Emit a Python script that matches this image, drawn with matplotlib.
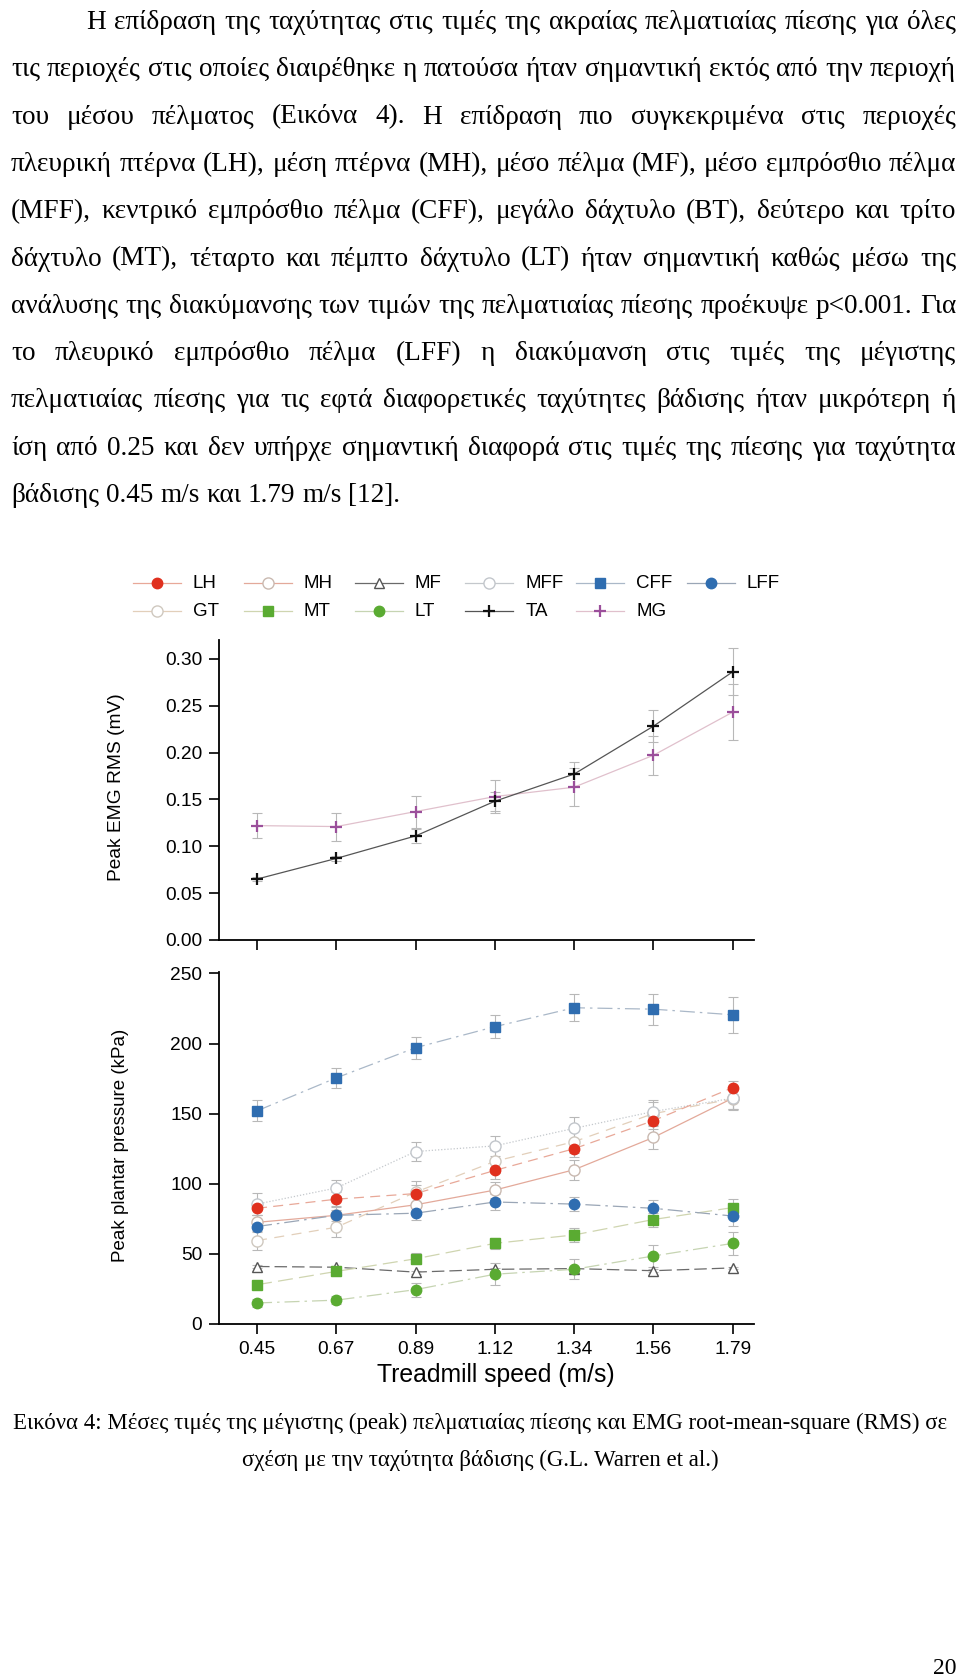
import matplotlib
matplotlib.use("Agg")
import matplotlib.pyplot as plt

W, H = 960, 1678
SERIF = "Liberation Serif"
SANS = "Liberation Sans"

# ---- data ----
speeds = ["0.45", "0.67", "0.89", "1.12", "1.34", "1.56", "1.79"]

ta = [0.065, 0.087, 0.111, 0.148, 0.177, 0.228, 0.286]
ta_err = [0.002, 0.003, 0.007, 0.010, 0.013, 0.017, 0.025]
mg = [0.122, 0.121, 0.137, 0.153, 0.163, 0.197, 0.243]
mg_err = [0.013, 0.015, 0.017, 0.018, 0.020, 0.021, 0.030]

cff = [152, 175.5, 197, 212, 225.5, 224.5, 220.5]
cff_err = [7.5, 7, 8, 8, 9.5, 11, 13]
lh = [82.5, 89, 93, 109.5, 125, 145, 168.5]
lh_err = [5, 5, 6, 6, 6, 6, 5]
mh = [72.5, 77.5, 85, 95.5, 110, 133, 161]
mh_err = [5, 6, 6, 6, 7, 8, 8]
mff = [85.5, 97, 123, 127, 139.5, 151.5, 161]
mff_err = [8, 6, 7, 7, 8, 8, 8]
gt = [59.5, 69, 94, 116, 130, 150, 160.5]
gt_err = [7, 7, 8, 8, 8, 8, 8]
mf = [41, 40.5, 37, 39, 39.5, 38, 40]
mf_err = [1, 1, 1, 1, 1, 1, 1]
mt = [28, 37.5, 46.5, 57.5, 63.5, 74.5, 83]
mt_err = [3, 3, 4, 4, 5, 5, 6]
lt = [15, 17, 24.5, 35.5, 39, 48.5, 57.5]
lt_err = [3, 3, 5, 8, 7, 8, 8]
lff = [69.5, 77.5, 79, 87, 85.5, 82.5, 77]
lff_err = [4, 4, 5, 6, 5, 6, 7]

body_lines = [
    "Η επίδραση της ταχύτητας στις τιμές της ακραίας πελματιαίας πίεσης για όλες",
    "τις περιοχές στις οποίες διαιρέθηκε η πατούσα ήταν σημαντική εκτός από την περιοχή",
    "του μέσου πέλματος (Εικόνα 4). Η επίδραση πιο συγκεκριμένα στις περιοχές",
    "πλευρική πτέρνα (LH), μέση πτέρνα (MH), μέσο πέλμα (MF), μέσο εμπρόσθιο πέλμα",
    "(MFF), κεντρικό εμπρόσθιο πέλμα (CFF), μεγάλο δάχτυλο (BT), δεύτερο και τρίτο",
    "δάχτυλο (MT), τέταρτο και πέμπτο δάχτυλο (LT) ήταν σημαντική καθώς μέσω της",
    "ανάλυσης της διακύμανσης των τιμών της πελματιαίας πίεσης προέκυψε p<0.001. Για",
    "το πλευρικό εμπρόσθιο πέλμα (LFF) η διακύμανση στις τιμές της μέγιστης",
    "πελματιαίας πίεσης για τις εφτά διαφορετικές ταχύτητες βάδισης ήταν μικρότερη ή",
    "ίση από 0.25 και δεν υπήρχε σημαντική διαφορά στις τιμές της πίεσης για ταχύτητα",
    "βάδισης 0.45 m/s και 1.79 m/s [12].",
]
caption = ["Εικόνα 4: Μέσες τιμές της μέγιστης (peak) πελματιαίας πίεσης και EMG root-mean-square (RMS) σε",
           "σχέση με την ταχύτητα βάδισης (G.L. Warren et al.)"]

# style per series: (label, values, err, color, marker, facecolor, linestyle, linecolor, size)
pressure = [
    ("MF", mf, mf_err, "#555555", "^", "white", (0, (10, 4)), "#6a6a6a", 7),
    ("LT", lt, lt_err, "#5aab32", "o", "#5aab32", (0, (12, 4, 2, 4)), "#c6d4b2", 7.5),
    ("MT", mt, mt_err, "#5aab32", "s", "#5aab32", (0, (12, 5)), "#cfd5b0", 7),
    ("GT", gt, gt_err, "#cfc8bf", "o", "white", (0, (8, 6)), "#e2cfba", 8),
    ("MH", mh, mh_err, "#c9b9b0", "o", "white", "-", "#e3a99a", 8),
    ("MFF", mff, mff_err, "#c2c6cb", "o", "white", (0, (1, 1.5)), "#c4c8cc", 8),
    ("LFF", lff, lff_err, "#2f6db0", "o", "#2f6db0", (0, (12, 4, 2, 4)), "#9aa6b6", 7.5),
    ("LH", lh, lh_err, "#e0301e", "o", "#e0301e", (0, (8, 5)), "#e8a898", 7.5),
    ("CFF", cff, cff_err, "#2f6db0", "s", "#2f6db0", (0, (12, 4, 2, 4)), "#aab8c8", 7),
]
emg = [
    ("MG", mg, mg_err, "#9b4f9b", "+", "#9b4f9b", "-", "#e0c0cc", 9),
    ("TA", ta, ta_err, "#111111", "+", "#111111", "-", "#555555", 9),
]
style = {s[0]: s for s in pressure + emg}

fig = plt.figure(figsize=(W / 100, H / 100), dpi=100)
fig.patch.set_facecolor("white")
renderer = fig.canvas.get_renderer()


def fx(x):
    return x / W


def fy(y):
    return 1 - y / H


# ---- body text, justified ----
body_fs = 19.6
left, right = 11, 956
for i, line in enumerate(body_lines):
    y = 29 + i * 47.3
    x0 = 86 if i == 0 else left
    words = line.split(" ")
    texts = [fig.text(0, fy(y), w, fontsize=body_fs, family=SERIF, va="baseline") for w in words]
    widths = [t.get_window_extent(renderer).width for t in texts]
    if i == len(body_lines) - 1:
        gap = body_fs * 0.25 * 100 / 72
    else:
        gap = (right - x0 - sum(widths)) / (len(words) - 1)
    x = x0
    for t, w in zip(texts, widths):
        t.set_x(fx(x))
        x += w + gap

# caption and page number
fig.text(fx(480), fy(1429), caption[0], fontsize=16.5, family=SERIF, ha="center", va="baseline")
fig.text(fx(480), fy(1466), caption[1], fontsize=16.5, family=SERIF, ha="center", va="baseline")
fig.text(fx(956), fy(1674), "20", fontsize=17, family=SERIF, ha="right", va="baseline")


def style_axes(ax):
    for s in ["top", "right"]:
        ax.spines[s].set_visible(False)
    for s in ["left", "bottom"]:
        ax.spines[s].set_linewidth(1.3)
    ax.tick_params(length=7, width=1.2, pad=5, labelsize=13.8)
    for lab in ax.get_xticklabels() + ax.get_yticklabels():
        lab.set_family(SANS)
    ax.set_xlim(-0.48, 6.27)


def draw(ax, series):
    xs = range(len(speeds))
    for name, vals, err, mc, mk, fc, ls, lc, ms in series:
        ax.errorbar(xs, vals, yerr=err, fmt="none", ecolor="#b8b8b8",
                    elinewidth=0.8, capsize=3.5, capthick=0.8, zorder=2)
        ax.plot(xs, vals, linestyle=ls, color=lc, linewidth=0.9, zorder=3)
        ax.plot(xs, vals, linestyle="none", marker=mk, markersize=ms,
                markerfacecolor=fc, markeredgecolor=mc,
                markeredgewidth=1.6 if mk == "+" else 1.0, zorder=4)


# ---- top panel: EMG ----
ax1 = fig.add_axes([fx(219), fy(940), 535 / W, 300 / H])
draw(ax1, emg)
ax1.set_ylim(0, 0.32)
ax1.set_yticks([0, 0.05, 0.10, 0.15, 0.20, 0.25, 0.30])
ax1.set_yticklabels(["0.00", "0.05", "0.10", "0.15", "0.20", "0.25", "0.30"])
ax1.set_xticks(range(len(speeds)))
ax1.set_xticklabels([])
ax1.set_ylabel("Peak EMG RMS (mV)", fontsize=13.8, family=SANS)
ax1.yaxis.set_label_coords(-0.175, 0.51)
style_axes(ax1)

# ---- bottom panel: plantar pressure ----
ax2 = fig.add_axes([fx(219), fy(1324), 535 / W, 352 / H])
draw(ax2, pressure)
ax2.set_ylim(0, 251)
ax2.set_yticks([0, 50, 100, 150, 200, 250])
ax2.set_xticks(range(len(speeds)))
ax2.set_xticklabels(speeds)
ax2.set_ylabel("Peak plantar pressure (kPa)", fontsize=13.5, family=SANS)
ax2.yaxis.set_label_coords(-0.168, 0.508)
ax2.set_xlabel("Treadmill speed (m/s)", fontsize=17.8, family=SANS)
ax2.xaxis.set_label_coords(0.518, -0.112)
style_axes(ax2)

# ---- legend (two rows, fixed column pitch) ----
lax = fig.add_axes([0, fy(640), 1, 80 / H])
lax.set_xlim(0, W)
lax.set_ylim(640, 560)
lax.axis("off")
rows = [["LH", "MH", "MF", "MFF", "CFF", "LFF"], ["GT", "MT", "LT", "TA", "MG"]]
for r, names in enumerate(rows):
    y = 583 + r * 28
    for c, name in enumerate(names):
        _, _, _, mc, mk, fc, ls, lc, ms = style[name]
        x0 = 133 + c * 110.8
        lax.plot([x0, x0 + 48], [y, y], color=lc, linewidth=0.9)
        lax.plot([x0 + 24], [y], marker=mk, markersize=ms, linestyle="none",
                 markerfacecolor=fc, markeredgecolor=mc,
                 markeredgewidth=1.6 if mk == "+" else 1.0)
        lax.text(x0 + 60, y, name, fontsize=13.5, family=SANS, va="center")

fig.savefig("out.png", dpi=100, facecolor="white")
